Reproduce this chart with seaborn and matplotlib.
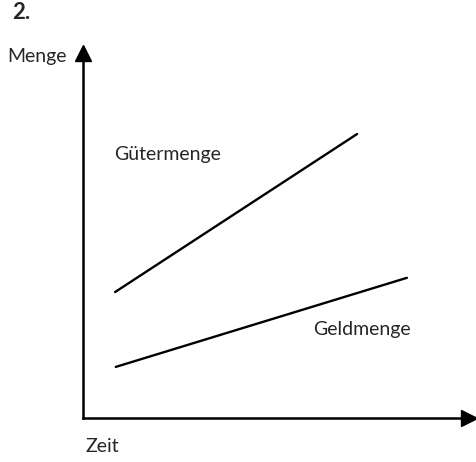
import matplotlib
matplotlib.use("Agg")
import matplotlib.pyplot as plt
import seaborn as sns

# schematic values (arbitrary units, 0..10 on both axes)
zeit_gueter = [0.83, 7.10]
gueter = [3.45, 7.78]
zeit_geld = [0.85, 8.39]
geld = [1.40, 3.84]

sns.set_style("white")
plt.rcParams['font.family'] = ['Lato', 'DejaVu Sans']

W, H = 477, 462
fig = plt.figure(figsize=(W / 100, H / 100), dpi=100)
ax = fig.add_axes([83 / W, 1 - 418 / H, 386 / W, 365 / H])

sns.lineplot(x=zeit_gueter, y=gueter, color='black', lw=1.7, ax=ax)
sns.lineplot(x=zeit_geld, y=geld, color='black', lw=1.7, ax=ax)

ax.set_xlim(0, 10)
ax.set_ylim(0, 10)
ax.set_xticks([])
ax.set_yticks([])
sns.despine(ax=ax)
for s in ['left', 'bottom']:
    ax.spines[s].set_linewidth(1.8)
    ax.spines[s].set_color('black')

# arrow heads on the axes
ax.plot(1, 0, '>', color='black', ms=11, transform=ax.transAxes, clip_on=False)
ax.plot(0, 1, '^', color='black', ms=11, transform=ax.transAxes, clip_on=False)

fig.text(12 / W, 1 - 19 / H, "2.", fontsize=16, fontweight='bold', va='baseline')
fig.text(7 / W, 1 - 62 / H, "Menge", fontsize=14, va='baseline')
fig.text(86 / W, 1 - 452 / H, "Zeit", fontsize=14, va='baseline')
fig.text(114 / W, 1 - 160 / H, "Gütermenge", fontsize=14, va='baseline')
fig.text(313 / W, 1 - 335 / H, "Geldmenge", fontsize=14, va='baseline')

fig.savefig("out.png", dpi=100)
